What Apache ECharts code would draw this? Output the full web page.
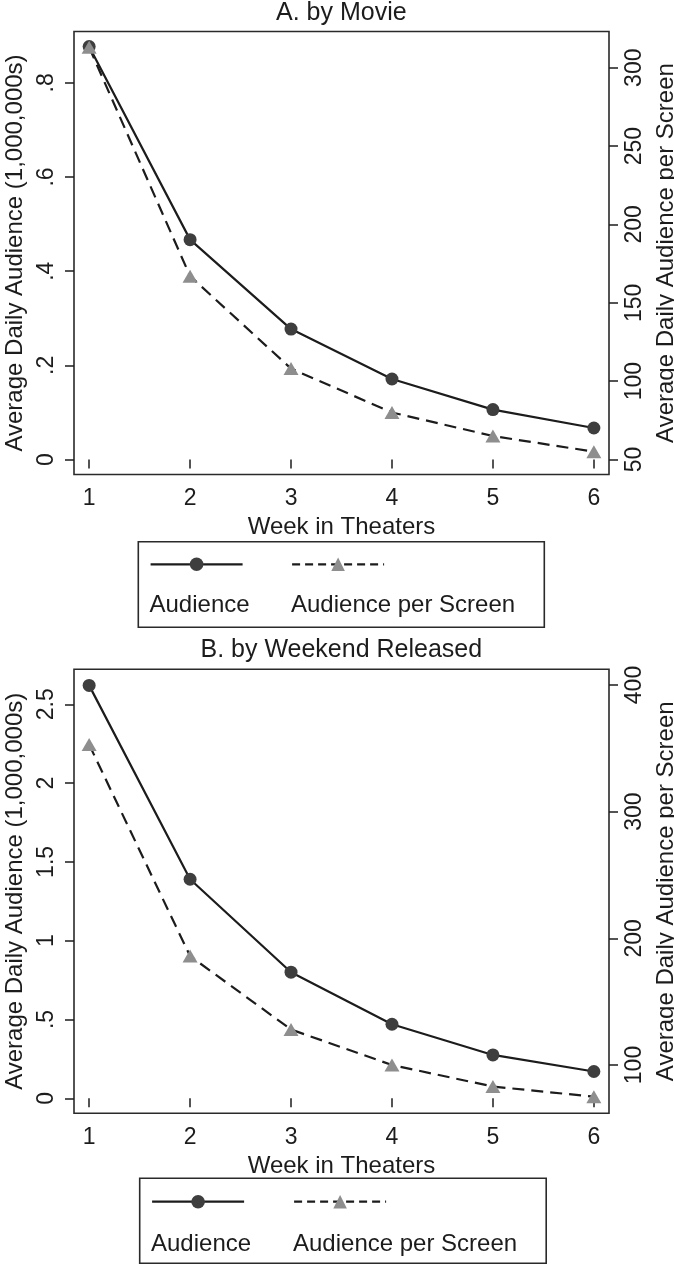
<!DOCTYPE html>
<html>
<head>
<meta charset="utf-8">
<script src="https://cdn.jsdelivr.net/npm/echarts@6/dist/echarts.min.js"></script>
<style>html,body{margin:0;padding:0;background:#fff}#c{width:674px;height:1265px}</style>
</head>
<body>
<div id="c"></div>
<script>
// ---- data ----
const weeks = [1, 2, 3, 4, 5, 6];
const audienceA = [0.877, 0.467, 0.277, 0.171, 0.106, 0.067];
const perScreenA = [313, 167, 108, 80, 65, 55];
const audienceB = [2.62, 1.39, 0.80, 0.47, 0.275, 0.17];
const perScreenB = [353, 186, 128, 100, 83, 75];
const xTicks = [1, 2, 3, 4, 5, 6];
const yTicksA = [0, 0.2, 0.4, 0.6, 0.8];
const y2TicksA = [50, 100, 150, 200, 250, 300];
const yTicksB = [0, 0.5, 1, 1.5, 2, 2.5];
const y2TicksB = [100, 200, 300, 400];
const seriesNames = ['Audience', 'Audience per Screen'];
const titles = ['A. by Movie', 'B. by Weekend Released'];
const xTitle = 'Week in Theaters';
const yTitle = 'Average Daily Audience (1,000,000s)';
const y2Title = 'Average Daily Audience per Screen';

// ---- styling ----
const FONT = '"Liberation Sans", Arial, Helvetica, sans-serif';
const INK = '#1c1c1c';
const pair = (xs, ys) => xs.map((x, i) => [x, ys[i]]);
const stataNum = v => { let s = String(+(+v).toFixed(4)); return s.replace(/^0\./, '.').replace(/^-0\./, '-.'); };

const panels = [
  { top: 31.5, height: 443, yMin: -0.0318, yMax: 0.909, y2Min: 40.44, y2Max: 323.1,
    yTicks: yTicksA, y2Ticks: y2TicksA, aud: audienceA, per: perScreenA,
    titleTop: 1, legY: 564.3, legTextY: 605, box: [138.3, 541.7, 406, 85.6] },
  { top: 669.3, height: 444, yMin: -0.0952, yMax: 2.722, y2Min: 61.87, y2Max: 412.4,
    yTicks: yTicksB, y2Ticks: y2TicksB, aud: audienceB, per: perScreenB,
    titleTop: 637.8, legY: 1201.7, legTextY: 1244, box: [139.7, 1178.3, 406.5, 85] }
];
const gridLeft = 74, gridWidth = 535;

const tickStyle = { show: true, inside: false, length: 9, lineStyle: { color: INK, width: 1.5 } };
const labelStyle = { color: INK, fontSize: 23, fontFamily: FONT };

const option = {
  animation: false,
  backgroundColor: '#fff',
  title: [], grid: [], xAxis: [], yAxis: [], series: [], legend: [], graphic: []
};

panels.forEach((p, k) => {
  option.title.push({
    text: titles[k], left: 341.3, top: p.titleTop, textAlign: 'center', padding: 0,
    textStyle: { fontSize: 25, fontWeight: 'normal', color: INK, fontFamily: FONT }
  });
  option.grid.push({
    left: gridLeft, top: p.top, width: gridWidth, height: p.height,
    outerBoundsMode: 'none', containLabel: false,
    show: true, borderColor: '#2a2a2a', borderWidth: 1.6, backgroundColor: 'transparent'
  });
  option.xAxis.push({
    type: 'value', gridIndex: k, min: 0.85, max: 6.15,
    axisLine: { show: false }, splitLine: { show: false },
    axisTick: Object.assign({ customValues: xTicks }, tickStyle),
    axisLabel: Object.assign({ customValues: xTicks, margin: 13 }, labelStyle),
    name: xTitle, nameLocation: 'middle', nameGap: 41,
    nameTextStyle: { fontSize: 24, color: INK, fontFamily: FONT }
  });
  option.yAxis.push({
    type: 'value', gridIndex: k, position: 'left', min: p.yMin, max: p.yMax,
    axisLine: { show: false }, splitLine: { show: false },
    axisTick: Object.assign({ customValues: p.yTicks }, tickStyle),
    axisLabel: Object.assign({ customValues: p.yTicks, rotate: 90, margin: 16, formatter: stataNum }, labelStyle),
    name: yTitle, nameLocation: 'middle', nameRotate: 90, nameGap: 44,
    nameTextStyle: { fontSize: 24, color: INK, fontFamily: FONT }
  });
  option.yAxis.push({
    type: 'value', gridIndex: k, position: 'right', min: p.y2Min, max: p.y2Max,
    axisLine: { show: false }, splitLine: { show: false },
    axisTick: Object.assign({ customValues: p.y2Ticks }, tickStyle),
    axisLabel: Object.assign({ customValues: p.y2Ticks, rotate: 90, margin: 14 }, labelStyle),
    name: y2Title, nameLocation: 'middle', nameRotate: 90, nameGap: 40,
    nameTextStyle: { fontSize: 24, color: INK, fontFamily: FONT }
  });
  option.series.push({
    name: seriesNames[0], type: 'line', xAxisIndex: k, yAxisIndex: 2 * k,
    data: pair(weeks, p.aud), symbol: 'circle', symbolSize: 13,
    lineStyle: { color: INK, width: 2.2, type: 'solid' },
    itemStyle: { color: '#3e3e3e', borderWidth: 0 }, z: 2
  });
  option.series.push({
    name: seriesNames[1], type: 'line', xAxisIndex: k, yAxisIndex: 2 * k + 1,
    data: pair(weeks, p.per), symbol: 'triangle', symbolSize: [15, 13],
    lineStyle: { color: INK, width: 2.2, type: [12, 7] },
    itemStyle: { color: '#8e8e8e', borderWidth: 0 }, z: 3
  });
  // legend keys (Stata-style stacked legend: key above label)
  const keyX = [149.5 + (k ? 1.5 : 0), 291 + (k ? 2 : 0)];
  seriesNames.forEach((nm, j) => {
    option.legend.push({
      data: [nm], left: keyX[j], top: p.legY - 8.5, padding: 0,
      itemWidth: 92, itemHeight: 17, formatter: () => '', selectedMode: false,
      lineStyle: { width: 2.2, type: j ? [8, 5] : 'solid' },
      textStyle: { fontSize: 1 }
    });
    option.graphic.push({
      type: 'text', x: keyX[j], y: p.legTextY,
      style: { text: nm, fill: INK, font: '24px ' + FONT, align: 'left', verticalAlign: 'middle' }
    });
  });
  option.graphic.push({
    type: 'rect', shape: { x: p.box[0], y: p.box[1], width: p.box[2], height: p.box[3] },
    style: { fill: 'none', stroke: '#2a2a2a', lineWidth: 1.6 }, silent: true
  });
});

const chart = echarts.init(document.getElementById('c'), null, { renderer: 'canvas' });
chart.setOption(option);
</script>
</body>
</html>
